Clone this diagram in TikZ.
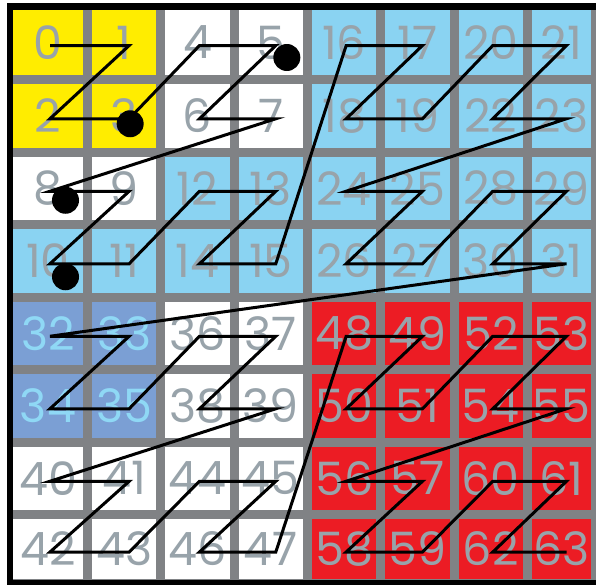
\documentclass[tikz,border=0pt]{standalone}
\usepackage{fontspec}
\newfontfamily\cellfont{Poppins}
\usetikzlibrary{calc}
\definecolor{zyellow}{HTML}{FFED00}
\definecolor{zsky}{HTML}{8AD3F2}
\definecolor{zsteel}{HTML}{7B9FD4}
\definecolor{zred}{HTML}{EC1C24}
\definecolor{gridgray}{HTML}{808285}
\definecolor{numgray}{HTML}{98A3AA}
\definecolor{numcyan}{HTML}{8FD8F5}

\begin{document}
\begin{tikzpicture}[
    x=1pt, y=-1pt,
    cell/.style={rectangle, inner sep=0pt, font=\cellfont\fontsize{46}{46}\selectfont},
    zline/.style={black, line width=3pt, line join=miter},
    bigdot/.style={circle, fill=black, inner sep=0pt, minimum size=27pt}
]
\useasboundingbox (0,0) rectangle (596,584);
\fill[gridgray] (13,10) rectangle (596,580);
\foreach \r in {0,...,7} {
  \foreach \c in {0,...,7} {
    \pgfmathtruncatemacro\n{mod(\c,2)+2*mod(\r,2)+4*mod(floor(\c/2),2)+8*mod(floor(\r/2),2)+16*floor(\c/4)+32*floor(\r/4)}
    \pgfmathsetmacro\xl{\c==0 ? 13 : 18.67+73.33*\c}
    \pgfmathsetmacro\xr{min(83+73.33*\c,591)}
    \pgfmathsetmacro\yt{\r==0 ? 10 : 11.5+72.5*\r}
    \pgfmathsetmacro\yb{min(75+72.5*\r,579)}
    \pgfmathsetmacro\dx{mod(\c,2)==0 ? 2 : 5}
    \def\txtc{numgray}
    \ifnum\n<4 \def\fillc{zyellow}\else
    \ifnum\n<10 \def\fillc{white}\else
    \ifnum\n<32 \def\fillc{zsky}\else
    \ifnum\n<36 \def\fillc{zsteel}\def\txtc{numcyan}\else
    \ifnum\n<48 \def\fillc{white}\else
    \def\fillc{zred}\fi\fi\fi\fi\fi
    \node (c\n) [cell, fill=\fillc, text=\txtc, minimum width={\xr-\xl}, minimum height={\yb-\yt}] at ({(\xl+\xr)/2},{(\yt+\yb)/2}) {\n};
    \coordinate (p\n) at ($(c\n.center)+(\dx,3)$);
  }
}
\draw[zline] (p0) \foreach \i in {1,...,63} {-- (p\i)};
\node (dot3) [bigdot] at ($(c3.center)+(6,8)$) {};
\node (dot5) [bigdot] at ($(c5.center)+(16,15)$) {};
\node (dot8) [bigdot] at ($(c8.center)+(17.5,12)$) {};
\node (dot10) [bigdot] at ($(c10.center)+(17.5,16)$) {};
\draw[line width=6.5pt] (596,6.5) -- (10,6.5) -- (10,583) -- (596,583);
\end{tikzpicture}
\end{document}
